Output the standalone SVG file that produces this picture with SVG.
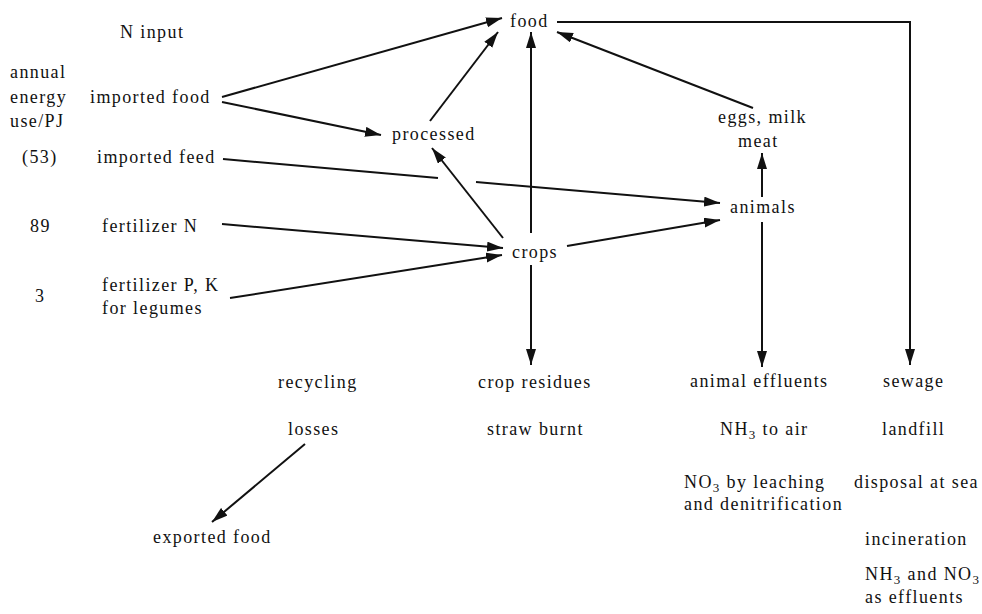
<svg xmlns="http://www.w3.org/2000/svg" width="982" height="614" viewBox="0 0 982 614">
<defs>
<style>
text{font-family:"Liberation Serif","Times New Roman",serif;font-size:18px;letter-spacing:1.4px;fill:#111}
.sub{font-size:13px}
.c line,.c polyline{stroke:#111;stroke-width:2;fill:none}
</style>
<marker id="ah" markerUnits="userSpaceOnUse" markerWidth="17" markerHeight="11" refX="16" refY="5" orient="auto">
<path d="M0,0 L16,5 L0,10 z" fill="#111"/>
</marker>
</defs>
<rect width="982" height="614" fill="#fff"/>
<g id="labels-left">
<text x="120" y="38">N input</text>
<text x="10" y="78">annual</text>
<text x="10" y="103">energy</text>
<text x="10" y="127">use/PJ</text>
<text x="22" y="163">(53)</text>
<text x="30" y="232">89</text>
<text x="35" y="302">3</text>
</g>
<g id="n-imported-food"><text x="90" y="103">imported food</text></g>
<g id="n-imported-feed"><text x="97" y="163">imported feed</text></g>
<g id="n-fertilizer-n"><text x="102" y="232">fertilizer N</text></g>
<g id="n-fertilizer-pk"><text x="102" y="291">fertilizer P, K</text><text x="102" y="314">for legumes</text></g>
<g id="n-food"><text x="510" y="27">food</text></g>
<g id="n-processed"><text x="392" y="140">processed</text></g>
<g id="n-crops"><text x="512" y="258">crops</text></g>
<g id="n-eggs"><text x="718" y="123">eggs, milk</text><text x="738" y="147">meat</text></g>
<g id="n-animals"><text x="730" y="213">animals</text></g>
<g id="n-recycling"><text x="278" y="388">recycling</text><text x="288" y="435">losses</text></g>
<g id="n-exported"><text x="153" y="543">exported food</text></g>
<g id="n-crop-residues"><text x="478" y="388">crop residues</text><text x="487" y="435">straw burnt</text></g>
<g id="n-animal-effluents"><text x="690" y="387">animal effluents</text>
<text x="720" y="435">NH<tspan class="sub" dy="4">3</tspan><tspan dy="-4"> to air</tspan></text>
<text x="684" y="488">NO<tspan class="sub" dy="4">3</tspan><tspan dy="-4"> by leaching</tspan></text>
<text x="684" y="510">and denitrification</text></g>
<g id="n-sewage"><text x="883" y="387">sewage</text>
<text x="882" y="435">landfill</text>
<text x="854" y="488">disposal at sea</text>
<text x="865" y="545">incineration</text>
<text x="865" y="580">NH<tspan class="sub" dy="4">3</tspan><tspan dy="-4"> and NO</tspan><tspan class="sub" dy="4">3</tspan></text>
<text x="865" y="603">as effluents</text></g>
<g id="connectors" class="c">
<line x1="222" y1="97" x2="502" y2="18" marker-end="url(#ah)"/>
<line x1="222" y1="102" x2="381" y2="135" marker-end="url(#ah)"/>
<line x1="430" y1="121" x2="498" y2="32" marker-end="url(#ah)"/>
<line x1="531" y1="233" x2="531" y2="32" marker-end="url(#ah)"/>
<line x1="503" y1="238" x2="432" y2="148" marker-end="url(#ah)"/>
<line x1="223" y1="159" x2="438" y2="178"/>
<line x1="476" y1="182" x2="720" y2="203" marker-end="url(#ah)"/>
<line x1="222" y1="224" x2="503" y2="248" marker-end="url(#ah)"/>
<line x1="230" y1="298" x2="502" y2="255" marker-end="url(#ah)"/>
<line x1="567" y1="246" x2="720" y2="220" marker-end="url(#ah)"/>
<line x1="753" y1="108" x2="557" y2="32" marker-end="url(#ah)"/>
<line x1="762" y1="197" x2="762" y2="153" marker-end="url(#ah)"/>
<line x1="762" y1="222" x2="762" y2="367" marker-end="url(#ah)"/>
<line x1="531" y1="265" x2="531" y2="365" marker-end="url(#ah)"/>
<polyline points="557,22 910,22 910,365" marker-end="url(#ah)"/>
<line x1="305" y1="444" x2="212" y2="522" marker-end="url(#ah)"/>
</g>
</svg>
